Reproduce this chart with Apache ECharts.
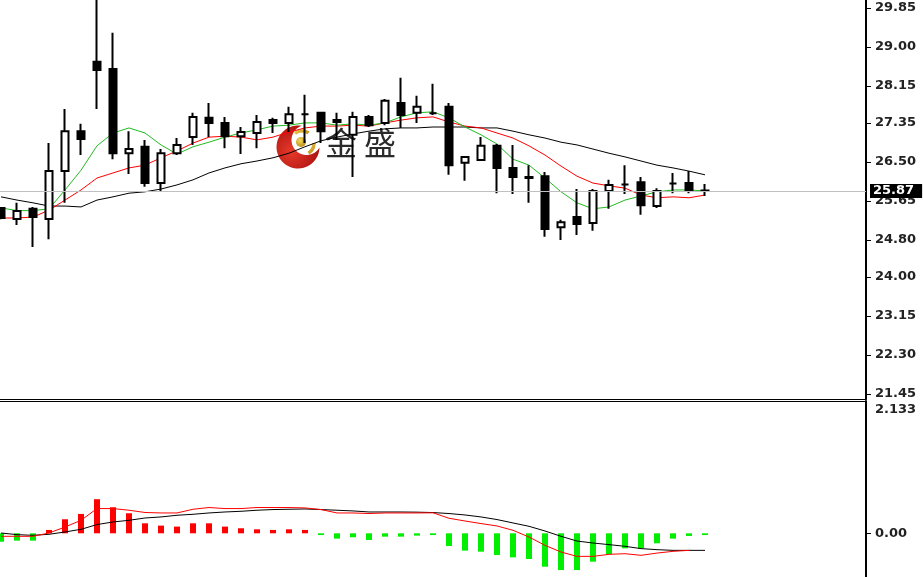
<!DOCTYPE html>
<html><head><meta charset="utf-8">
<script src="https://cdn.jsdelivr.net/npm/echarts@6/dist/echarts.min.js"></script>
<style>html,body{margin:0;padding:0;background:#fff}#c{width:923px;height:577px}</style>
</head><body><div id="c"></div>
<script>
// ---- price candles (oldest -> newest) ----
const opens  = [25.50,25.26,25.48,25.26,26.30,27.17,28.68,28.52,26.69,26.83,26.04,26.69,27.04,27.46,27.35,27.06,27.13,27.41,27.35,27.54,27.57,27.41,27.09,27.48,27.35,27.78,27.57,27.56,27.70,26.48,26.54,26.85,26.37,26.17,26.19,25.08,25.30,25.17,25.87,26.01,26.06,25.54,26.03,26.04,25.88];
const closes = [25.28,25.43,25.30,26.30,27.17,27.00,28.50,26.69,26.78,26.04,26.69,26.87,27.48,27.35,27.06,27.15,27.37,27.35,27.54,27.54,27.17,27.37,27.48,27.30,27.83,27.52,27.70,27.56,26.43,26.61,26.85,26.37,26.17,26.15,25.04,25.19,25.15,25.87,26.00,26.01,25.56,25.87,26.03,25.89,25.87];
const lows   = [25.25,25.13,24.65,24.82,25.61,26.65,27.65,26.56,26.24,25.96,25.87,26.65,26.87,27.04,26.80,26.67,26.80,27.13,27.15,26.91,26.91,26.98,26.17,27.26,27.30,27.24,27.35,27.52,26.22,26.09,26.54,25.82,25.80,25.61,24.87,24.80,24.91,25.00,25.48,25.80,25.35,25.50,25.82,25.82,25.76];
const highs  = [25.52,25.61,25.52,26.91,27.65,27.33,30.10,29.31,27.17,26.98,26.78,27.02,27.57,27.78,27.48,27.26,27.52,27.46,27.70,27.96,27.58,27.57,27.59,27.52,27.87,28.33,27.94,28.20,27.78,26.62,27.04,26.89,26.87,26.43,26.28,25.24,25.91,25.91,26.11,26.43,26.17,25.93,26.26,26.30,26.02];
// ---- moving averages ----
const maGreen = [25.50,25.44,25.44,25.48,25.89,26.32,26.85,27.13,27.24,27.13,26.87,26.67,26.83,26.93,27.04,27.13,27.20,27.28,27.30,27.35,27.35,27.30,27.33,27.30,27.35,27.48,27.57,27.59,27.46,27.26,27.09,26.89,26.56,26.43,26.15,25.85,25.61,25.48,25.52,25.67,25.76,25.85,25.89,25.89,25.87];
const maRed   = [25.28,25.28,25.30,25.45,25.67,25.89,26.15,26.26,26.37,26.43,26.59,26.74,26.91,27.04,27.06,27.04,26.98,27.04,27.15,27.24,27.28,27.28,27.30,27.28,27.35,27.41,27.46,27.48,27.37,27.28,27.24,27.13,27.02,26.85,26.65,26.41,26.19,26.04,25.98,25.93,25.78,25.72,25.74,25.72,25.78];
const maBlack = [25.74,25.67,25.61,25.54,25.54,25.52,25.67,25.74,25.82,25.85,25.91,26.00,26.11,26.26,26.37,26.46,26.52,26.59,26.69,26.83,26.96,27.04,27.11,27.17,27.22,27.24,27.24,27.26,27.26,27.26,27.24,27.24,27.17,27.09,27.02,26.93,26.87,26.78,26.69,26.61,26.52,26.43,26.37,26.30,26.22];
// ---- MACD panel ----
const macdHist  = [-0.146,-0.127,-0.127,0.058,0.243,0.335,0.590,0.451,0.347,0.173,0.133,0.116,0.173,0.173,0.116,0.087,0.069,0.058,0.069,0.058,-0.030,-0.092,-0.069,-0.116,-0.058,-0.058,-0.040,-0.030,-0.220,-0.300,-0.318,-0.376,-0.416,-0.445,-0.578,-0.636,-0.636,-0.491,-0.358,-0.260,-0.260,-0.173,-0.092,-0.046,-0.030];
const macdRed   = [-0.052,-0.052,-0.052,0.005,0.109,0.225,0.428,0.428,0.399,0.360,0.352,0.352,0.416,0.446,0.428,0.428,0.446,0.446,0.446,0.439,0.411,0.352,0.352,0.342,0.352,0.352,0.352,0.355,0.260,0.213,0.168,0.127,0.052,-0.064,-0.208,-0.324,-0.399,-0.399,-0.364,-0.353,-0.381,-0.342,-0.312,-0.295,null];
const macdBlack = [0.005,-0.023,-0.035,-0.017,0.023,0.069,0.151,0.196,0.225,0.265,0.283,0.312,0.329,0.352,0.369,0.381,0.399,0.411,0.416,0.421,0.411,0.399,0.387,0.369,0.369,0.369,0.366,0.359,0.342,0.317,0.283,0.238,0.179,0.121,0.040,-0.052,-0.134,-0.168,-0.196,-0.225,-0.265,-0.283,-0.295,-0.295,-0.295];
// ---- tick labels ----
const priceTicks = [29.85,29.00,28.15,27.35,26.50,25.65,24.80,24.00,23.15,22.30,21.45];
const macdTicks = [2.133, 0];
const macdTickLabels = ['2.133', '0.00'];
const brandChars = ['金', '盛'];

const chart = echarts.init(document.getElementById('c'), null, {renderer: 'canvas'});
const candleData = opens.map((o, i) => [i, o, closes[i], lows[i], highs[i]]);
const pts = arr => arr.map((v, i) => [i, v]);
const lastClose = closes[closes.length - 1];
const axisFont = {fontFamily: 'DejaVu Sans', fontSize: 13, fontWeight: 'bold', color: '#222'};
const xCommon = {type: 'value', min: -0.0625, max: 54.0625, axisTick: {show: false}, axisLabel: {show: false}, splitLine: {show: false}};

// logo crescent outline (decoration only)
function crescentPoints() {
  const O = [298, 147], R = 21.5, I = [306.5, 140], r = 15;
  const dx = I[0] - O[0], dy = I[1] - O[1], d = Math.hypot(dx, dy);
  const th = Math.atan2(dy, dx);
  const a = (R * R - r * r + d * d) / (2 * d);
  const al = Math.acos(a / R), ph = Math.acos((a - d) / r);
  const p = [], N = 48;
  for (let k = 0; k <= N; k++) { const t = th + al + (2 * Math.PI - 2 * al) * k / N; p.push([O[0] + R * Math.cos(t), O[1] + R * Math.sin(t)]); }
  for (let k = 0; k <= N; k++) { const t = th - ph + 2 * Math.PI - (2 * Math.PI - 2 * ph) * k / N; p.push([I[0] + r * Math.cos(t), I[1] + r * Math.sin(t)]); }
  return p;
}
const gold = {type: 'linear', x: 0, y: 0, x2: 1, y2: 1, colorStops: [{offset: 0, color: '#f2d058'}, {offset: 1, color: '#b8860b'}]};

chart.setOption({
  animation: false,
  backgroundColor: '#fff',
  grid: [
    {left: 0, right: 57, top: 0, height: 399},
    {left: 0, right: 57, top: 401, height: 176}
  ],
  xAxis: [
    Object.assign({gridIndex: 0, position: 'bottom', axisLine: {show: true, onZero: false, lineStyle: {color: '#000', width: 1}}}, xCommon),
    Object.assign({gridIndex: 1, position: 'top', axisLine: {show: true, onZero: false, lineStyle: {color: '#000', width: 1}}}, xCommon)
  ],
  yAxis: [
    {type: 'value', gridIndex: 0, position: 'right', min: 21.341, max: 30.024,
     axisLine: {show: true, onZero: false, lineStyle: {color: '#000', width: 2}},
     axisTick: {show: true, length: 5, customValues: priceTicks, lineStyle: {color: '#000'}},
     axisLabel: Object.assign({customValues: priceTicks, formatter: v => v.toFixed(2), margin: 9}, axisFont),
     splitLine: {show: false}},
    {type: 'value', gridIndex: 1, position: 'right', min: -0.756, max: 2.289,
     axisLine: {show: true, onZero: false, lineStyle: {color: '#000', width: 2}},
     axisTick: {show: true, length: 5, customValues: [0], lineStyle: {color: '#000'}},
     axisLabel: Object.assign({customValues: macdTicks, formatter: v => macdTickLabels[macdTicks.indexOf(v)], margin: 9}, axisFont),
     splitLine: {show: false}}
  ],
  series: [
    {type: 'line', xAxisIndex: 0, yAxisIndex: 0, data: pts(maBlack), showSymbol: false, lineStyle: {color: '#000', width: 1}, z: 2},
    {type: 'line', xAxisIndex: 0, yAxisIndex: 0, data: pts(maRed), showSymbol: false, lineStyle: {color: '#ff0000', width: 1}, z: 2},
    {type: 'line', xAxisIndex: 0, yAxisIndex: 0, data: pts(maGreen), showSymbol: false, lineStyle: {color: '#22bb22', width: 1}, z: 2},
    {type: 'candlestick', xAxisIndex: 0, yAxisIndex: 0, data: candleData, barWidth: 8, z: 3,
     itemStyle: {color: '#fff', color0: '#000', borderColor: '#000', borderColor0: '#000', borderWidth: 2},
     markLine: {silent: true, symbol: ['none', 'none'], animation: false,
       lineStyle: {color: '#c0c0c0', width: 1, type: 'solid'},
       label: {show: true, position: 'end', distance: 4, formatter: lastClose.toFixed(2), backgroundColor: '#000', color: '#fff',
               padding: [1, 8, 0, 3], fontFamily: 'DejaVu Sans', fontSize: 13, fontWeight: 'bold'},
       data: [{yAxis: lastClose}]}},
    {type: 'bar', xAxisIndex: 1, yAxisIndex: 1, data: pts(macdHist), barWidth: 6,
     itemStyle: {color: p => p.value[1] >= 0 ? '#ff0000' : '#00ee00'}},
    {type: 'line', xAxisIndex: 1, yAxisIndex: 1, data: pts(macdBlack), showSymbol: false, lineStyle: {color: '#000', width: 1}},
    {type: 'line', xAxisIndex: 1, yAxisIndex: 1, data: pts(macdRed), showSymbol: false, lineStyle: {color: '#ff0000', width: 1}}
  ],
  graphic: [{
    type: 'group', z: 50, silent: true,
    children: [
      {type: 'polygon', shape: {points: crescentPoints()}, style: {fill: {type: 'radial', x: 0.35, y: 0.6, r: 0.8,
        colorStops: [{offset: 0, color: '#e63a2a'}, {offset: 1, color: '#a00a0a'}]}}},
      {type: 'arc', shape: {cx: 302, cy: 143, r: 12, startAngle: -2.2, endAngle: -1.0}, style: {stroke: gold, lineWidth: 3.5, fill: null}},
      {type: 'arc', shape: {cx: 302, cy: 143, r: 12, startAngle: 0.0, endAngle: 1.0}, style: {stroke: gold, lineWidth: 3.5, fill: null}},
      {type: 'circle', shape: {cx: 301, cy: 142, r: 5}, style: {fill: {type: 'radial', x: 0.4, y: 0.35, r: 0.7,
        colorStops: [{offset: 0, color: '#f5d860'}, {offset: 1, color: '#b88a10'}]}}},
      {type: 'text', x: 325, y: 127, style: {text: brandChars[0], font: '32px "Noto Sans CJK SC"', fill: '#2a2a2a'}},
      {type: 'text', x: 364, y: 127, style: {text: brandChars[1], font: '32px "Noto Sans CJK SC"', fill: '#2a2a2a'}}
    ]
  }]
});
</script></body></html>
